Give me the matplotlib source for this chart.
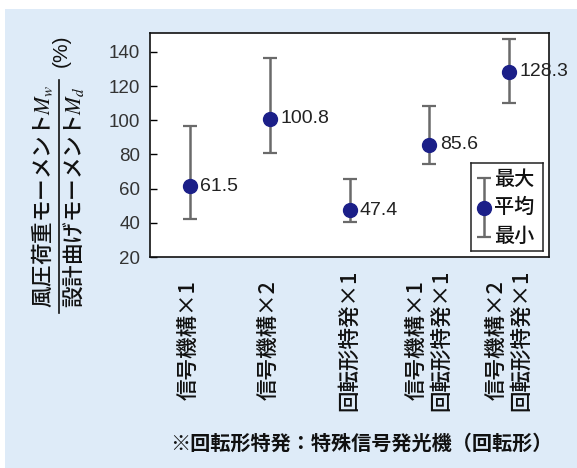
import numpy as np
import matplotlib
matplotlib.use("Agg")
from matplotlib import pyplot as plt
from matplotlib.patches import Rectangle
from matplotlib.lines import Line2D
import matplotlib.transforms as mtransforms

plt.rcParams['font.family'] = ['Noto Sans CJK JP', 'DejaVu Sans']
plt.rcParams['mathtext.fontset'] = 'stix'

# data
categories = ['信号機構×1', '信号機構×2', '回転形特発×1',
              '信号機構×1\n回転形特発×1', '信号機構×2\n回転形特発×1']
mean_vals = [61.5, 100.8, 47.4, 85.6, 128.3]
max_vals = [96.5, 136.3, 65.8, 108.4, 147.4]
min_vals = [42.1, 81.0, 40.5, 74.4, 110.0]
y_ticks = [20, 40, 60, 80, 100, 120, 140]

bg = '#deebf8'
navy = '#1b1f88'
bar_grey = '#6a6a6a'
num_font = 'Liberation Sans'

W, H = 577, 468
fig = plt.figure(figsize=(W / 100, H / 100), dpi=100, facecolor='white')

# light blue panel behind everything
fig.patches.append(Rectangle((5 / W, 0), 1 - 5 / W, 1 - 9 / H,
                             transform=fig.transFigure, facecolor=bg,
                             edgecolor='none', zorder=-10))

ax = fig.add_axes([150 / W, 1 - 257 / H, 399 / W, 224 / H])
ax.set_facecolor('white')

x = np.arange(1, len(categories) + 1)
mean = np.array(mean_vals)
lower = mean - np.array(min_vals)
upper = np.array(max_vals) - mean

ax.errorbar(x, mean, yerr=[lower, upper], fmt='none', ecolor=bar_grey,
            elinewidth=1.8, capsize=5, capthick=1.6, zorder=2)
ax.plot(x, mean, 'o', color=navy, markersize=10, zorder=3)

for xi, v in zip(x, mean_vals):
    ax.annotate(f'{v}', (xi, v), xytext=(7.5, 0), textcoords='offset points',
                ha='left', va='center', fontsize=14, family=num_font,
                color='#222222', annotation_clip=False, clip_on=False)

ax.set_xlim(0.5, 5.5)
ax.set_ylim(20, 151)
ax.set_yticks(y_ticks)
ax.set_yticklabels([str(t) for t in y_ticks], family=num_font, fontsize=13.5,
                   color='#333333')
ax.tick_params(axis='y', direction='in', length=5, width=1, pad=7)
ax.set_xticks([])
for s in ax.spines.values():
    s.set_linewidth(1.2)
    s.set_color('#111111')

# category labels below the axis
trans = mtransforms.blended_transform_factory(ax.transData, ax.transAxes)
for xi, lab in zip(x, categories):
    ax.text(xi, (257 - 340) / 224, lab, transform=trans, rotation=90,
            ha='center', va='center', multialignment='center',
            fontsize=15.5, fontweight='medium', color='#111111',
            linespacing=1.1)

# key box: max / mean / min
kx0, ky0 = (470.7 - 150) / 399, (257 - 251) / 224
kax = ax.inset_axes([kx0, ky0, 72 / 399, 88 / 224])
kax.set_xlim(0, 1)
kax.set_ylim(0, 1)
kax.set_xticks([])
kax.set_yticks([])
for s in kax.spines.values():
    s.set_linewidth(1.1)
    s.set_color('#222222')
kax.errorbar([0.18], [0.49], yerr=[[0.33], [0.34]], fmt='none',
             ecolor=bar_grey, elinewidth=1.8, capsize=5, capthick=1.6)
kax.plot([0.18], [0.49], 'o', color=navy, markersize=10)
for yy, t in zip([0.81, 0.49, 0.16], ['最大', '平均', '最小']):
    kax.text(0.32, yy, t, ha='left', va='center', fontsize=14.5,
             fontweight='medium', color='#111111')

# y label drawn as a fraction
fig.text(42 / W, 1 - 308 / H, '風圧荷重モーメント$M_w$', rotation=90,
         ha='center', va='bottom', fontsize=15.5, fontweight='medium',
         color='#111111')
fig.text(74 / W, 1 - 308 / H, '設計曲げモーメント$M_d$', rotation=90,
         ha='center', va='bottom', fontsize=15.5, fontweight='medium',
         color='#111111')
fig.lines.append(Line2D([59 / W, 59 / W], [1 - 80 / H, 1 - 313 / H],
                        transform=fig.transFigure, color='#111111', lw=1.2))
fig.text(61 / W, 1 - 51 / H, '(%)', rotation=90, ha='center', va='center',
         fontsize=15, family=num_font, color='#111111')

# footnote
fig.text(361 / W, 1 - 443 / H, '※回転形特発：特殊信号発光機（回転形）',
         ha='center', va='center', fontsize=14.5, fontweight='bold',
         color='#111111')

fig.savefig('out.png', dpi=100, facecolor='white')
